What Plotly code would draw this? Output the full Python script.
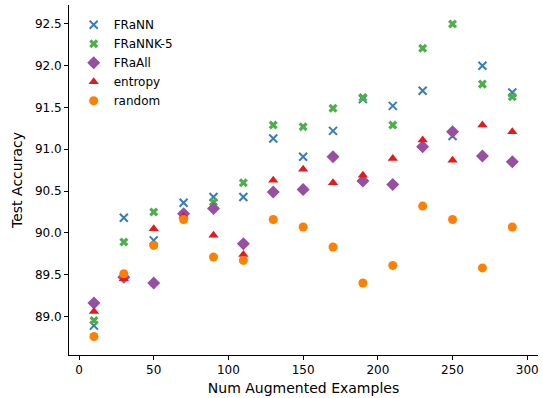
import plotly.graph_objects as go

x_vals = [10, 30, 50, 70, 90, 110, 130, 150, 170, 190, 210, 230, 250, 270, 290]

franN = [88.89, 90.18, 89.91, 90.36, 90.43, 90.43, 91.13, 90.91, 91.22, 91.60, 91.52, 91.70, 91.16, 92.00, 91.68]
frannk5 = [88.95, 89.89, 90.25, 90.22, 90.37, 90.60, 91.29, 91.27, 91.49, 91.62, 91.29, 92.21, 92.50, 91.78, 91.63]
fraall = [89.16, 89.47, 89.40, 90.23, 90.29, 89.87, 90.49, 90.52, 90.91, 90.62, 90.58, 91.03, 91.21, 90.92, 90.85]
entropy = [89.06, 89.45, 90.05, 90.20, 89.97, 89.74, 90.63, 90.76, 90.60, 90.69, 90.89, 91.11, 90.87, 91.29, 91.21]
random_ = [88.76, 89.51, 89.85, 90.16, 89.71, 89.67, 90.16, 90.07, 89.83, 89.40, 89.61, 90.32, 90.16, 89.58, 90.07]

series = [
    ("FRaNN", franN, "#377eb8", "x-thin-open", 8),
    ("FRaNNK-5", frannk5, "#4daf4a", "x", 8),
    ("FRaAll", fraall, "#984ea3", "diamond", 10),
    ("entropy", entropy, "#e41a1c", "triangle-up", 9),
    ("random", random_, "#ff7f00", "circle", 9),
]

fig = go.Figure()
for name, ys, color, sym, size in series:
    marker = dict(color=color, symbol=sym, size=size)
    if sym == "x-thin-open":
        marker["line"] = dict(color=color, width=2)
    else:
        marker["line"] = dict(width=0)
    fig.add_trace(go.Scatter(x=x_vals, y=ys, mode="markers", name=name, marker=marker))

font = dict(family="DejaVu Sans", size=12, color="black")
fig.update_layout(
    width=543, height=398,
    margin=dict(l=69, r=5, t=5, b=43),
    plot_bgcolor="white", paper_bgcolor="white",
    font=font,
    legend=dict(x=0.01, y=0.985, xanchor="left", yanchor="top",
                bgcolor="rgba(0,0,0,0)", font=dict(family="DejaVu Sans", size=12, color="black")),
    xaxis=dict(range=[-6.7, 307.2], tickvals=[0, 50, 100, 150, 200, 250, 300],
               showgrid=False, zeroline=False, showline=True, linecolor="black", linewidth=1,
               ticks="outside", ticklen=4, tickcolor="black",
               title=dict(text="Num Augmented Examples", standoff=6)),
    yaxis=dict(range=[88.538, 92.727], tickvals=[89.0, 89.5, 90.0, 90.5, 91.0, 91.5, 92.0, 92.5],
               ticktext=["89.0", "89.5", "90.0", "90.5", "91.0", "91.5", "92.0", "92.5"],
               showgrid=False, zeroline=False, showline=True, linecolor="black", linewidth=1,
               ticks="outside", ticklen=4, tickcolor="black",
               title=dict(text="Test Accuracy", standoff=8)),
)
fig.write_html("out.html", config={"displayModeBar": False},
               post_script="document.body.style.margin='0px';document.body.style.overflow='hidden';")
